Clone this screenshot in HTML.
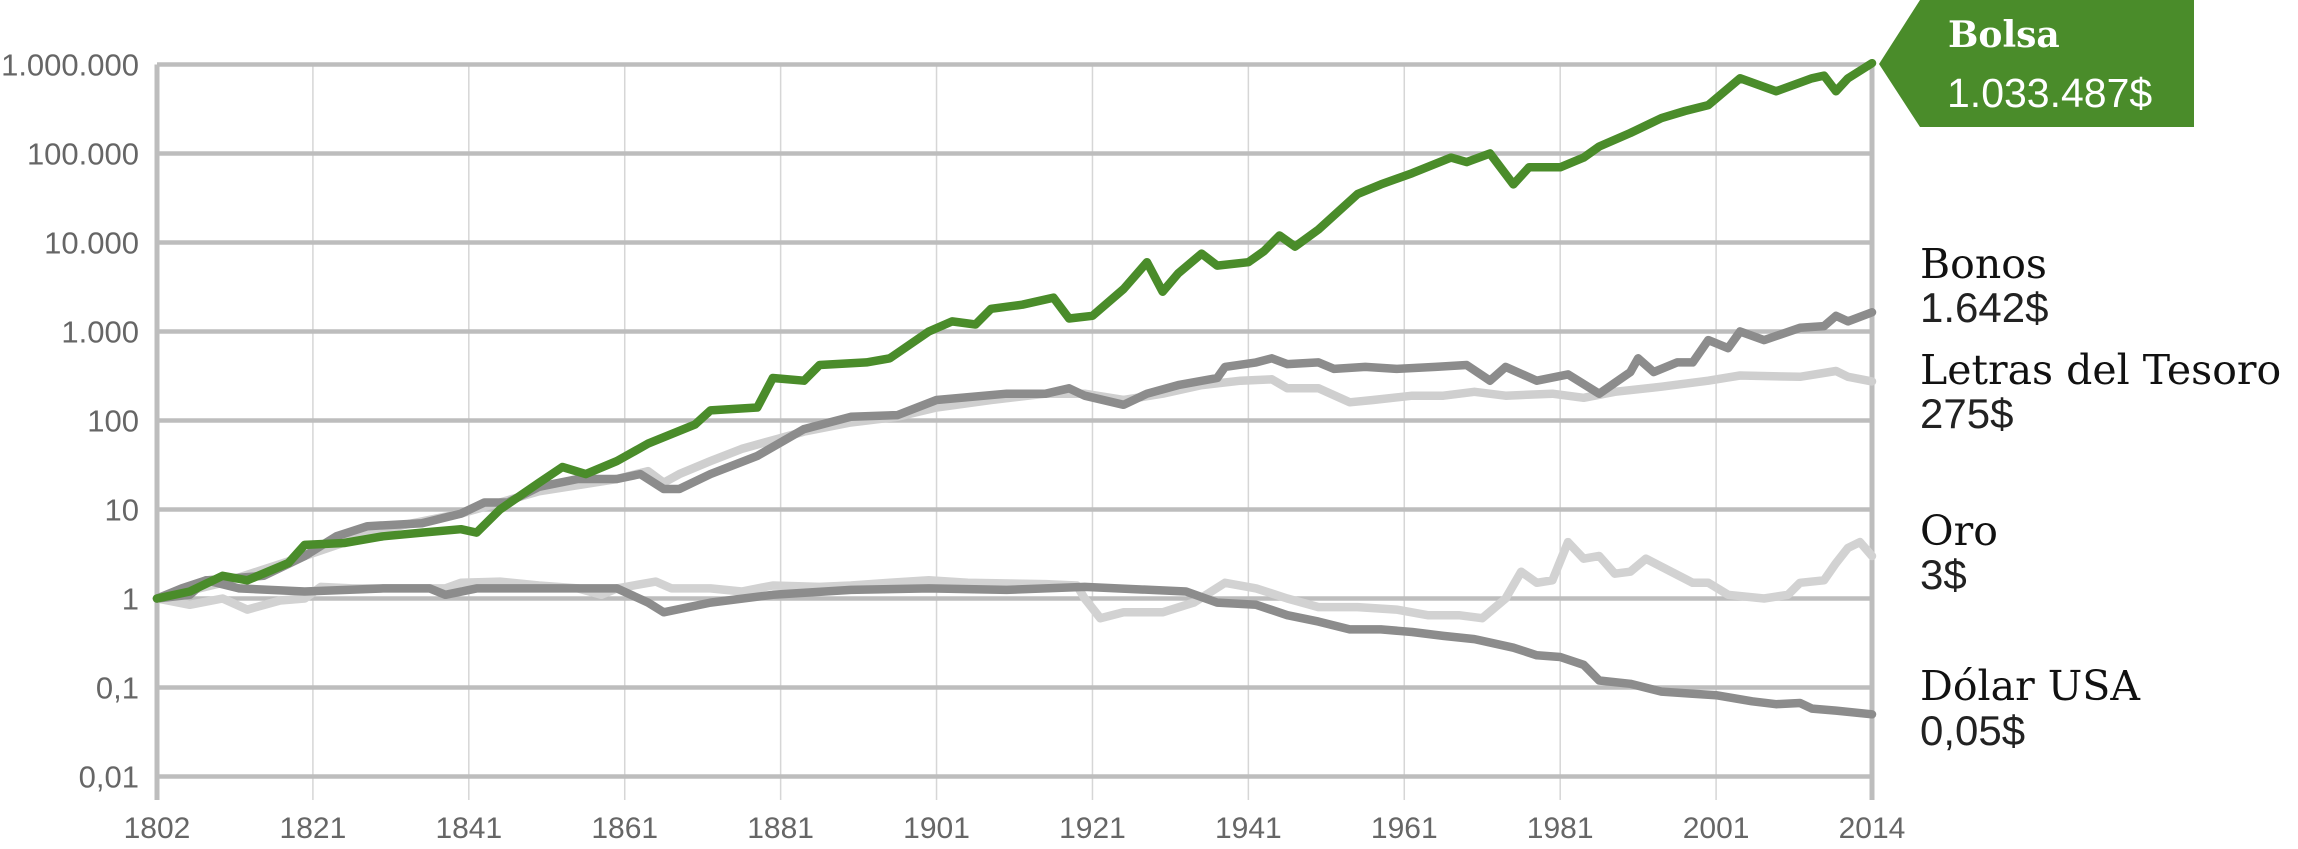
<!DOCTYPE html>
<html><head><meta charset="utf-8"><style>
html,body{margin:0;padding:0;background:#fff;}
svg{display:block;}
</style></head><body>
<svg id="chart" width="2298" height="849" viewBox="0 0 2298 849" xmlns="http://www.w3.org/2000/svg"></svg>
<script>
const tickYears=[1802,1821,1841,1861,1881,1901,1921,1941,1961,1981,2001,2014];
const yTickValues=[0.01,0.1,1,10,100,1000,10000,100000,1000000];
const yTickLabels=["0,01","0,1","1","10","100","1.000","10.000","100.000","1.000.000"];

const bolsaYears=[1802,1806,1810,1813,1818,1820,1825,1830,1835,1840,1842,1845,1850,1853,1856,1860,1864,1870,1872,1878,1880,1884,1886,1892,1895,1900,1903,1906,1908,1912,1916,1918,1921,1925,1928,1930,1932,1935,1937,1941,1943,1945,1947,1950,1955,1958,1962,1967,1969,1972,1975,1977,1981,1984,1986,1990,1994,1997,2000,2003,2006,2009,2010,2011,2012,2014];
const bolsaValues=[1,1.2,1.8,1.6,2.5,4,4.2,5,5.5,6,5.5,10,20,30,25,35,55,90,130,140,300,280,420,450,500,1000,1300,1200,1800,2000,2400,1400,1500,3000,6000,2800,4500,7500,5500,6000,8000,12000,9000,14000,35000,45000,60000,90000,80000,100000,45000,70000,70000,90000,120000,170000,250000,300000,350000,700000,500000,700000,750000,500000,700000,1033487];

const bonosYears=[1802,1805,1808,1815,1820,1824,1828,1835,1840,1843,1846,1850,1855,1860,1863,1866,1868,1872,1878,1884,1890,1896,1901,1910,1915,1918,1920,1925,1928,1932,1937,1938,1942,1944,1946,1950,1952,1956,1960,1965,1969,1972,1974,1978,1982,1986,1990,1991,1993,1996,1998,2000,2002,2003,2005,2008,2010,2011,2012,2014];
const bonosValues=[1,1.3,1.6,1.8,3,5,6.5,7,9,12,12,18,22,22,25,17,17,25,40,80,110,115,170,200,200,230,190,150,200,250,300,400,450,500,430,450,380,400,380,400,420,280,400,280,330,200,350,500,350,450,450,800,650,1000,800,1100,1150,1500,1300,1642];

const letrasYears=[1802,1810,1820,1830,1840,1850,1860,1864,1866,1868,1872,1876,1880,1884,1890,1896,1901,1908,1915,1920,1925,1930,1935,1940,1944,1946,1950,1954,1957,1962,1966,1970,1974,1980,1984,1988,1994,2000,2003,2008,2011,2012,2014];
const letrasValues=[1,1.5,3,6,9,16,22,27,20,25,35,48,60,75,95,110,140,170,200,200,170,200,250,280,290,230,230,160,170,190,190,210,190,200,180,210,240,280,320,310,360,310,275];

const oroYears=[1802,1806,1810,1813,1817,1820,1822,1826,1830,1838,1840,1845,1850,1855,1858,1860,1865,1867,1872,1876,1880,1886,1890,1895,1900,1905,1915,1919,1920,1922,1925,1930,1934,1938,1942,1946,1950,1955,1960,1964,1968,1971,1974,1976,1978,1980,1982,1984,1986,1988,1990,1992,1998,2000,2002,2005,2007,2008,2010,2011,2012,2013,2014];
const oroValues=[1,0.85,1,0.75,0.95,1,1.35,1.3,1.3,1.3,1.5,1.55,1.4,1.3,1.1,1.3,1.55,1.3,1.3,1.2,1.4,1.35,1.4,1.5,1.6,1.5,1.45,1.4,1.0,0.6,0.7,0.7,0.9,1.5,1.3,1.0,0.8,0.8,0.75,0.65,0.65,0.6,1.0,2.0,1.5,1.6,4.3,2.8,3.0,1.9,2.0,2.8,1.5,1.5,1.1,1.0,1.1,1.5,1.6,2.5,3.7,4.3,3];

const dolarYears=[1802,1806,1808,1812,1820,1830,1836,1838,1842,1860,1864,1866,1872,1880,1890,1900,1910,1920,1933,1937,1942,1946,1950,1954,1958,1962,1966,1970,1975,1978,1981,1984,1986,1990,1994,1998,2001,2004,2006,2008,2009,2011,2014];
const dolarValues=[1,1.1,1.6,1.3,1.2,1.3,1.3,1.1,1.3,1.3,0.9,0.7,0.9,1.1,1.25,1.3,1.25,1.35,1.2,0.9,0.85,0.65,0.55,0.45,0.45,0.42,0.38,0.35,0.28,0.23,0.22,0.18,0.12,0.11,0.09,0.085,0.082,0.07,0.065,0.067,0.058,0.055,0.05];

const NS="http://www.w3.org/2000/svg";
const svg=document.getElementById('chart');
const X0=157,X1=1872,YTOP=64.5,DEC=89;
function xScale(yr){
  const n=tickYears.length-1, step=(X1-X0)/n;
  for(let i=0;i<n;i++){
    if(yr<=tickYears[i+1]){return X0+step*(i+(yr-tickYears[i])/(tickYears[i+1]-tickYears[i]));}
  }
  return X1;
}
function yScale(v){return YTOP+(6-Math.log10(v))*DEC;}
function mk(tag,attrs){const e=document.createElementNS(NS,tag);for(const k in attrs)e.setAttribute(k,attrs[k]);svg.appendChild(e);return e;}

tickYears.forEach((yr,i)=>{
  const x=xScale(yr);
  const edge=(i===0||i===tickYears.length-1);
  const l=mk('line',{x1:x,x2:x,y1:YTOP,y2:800,stroke:edge?'#bdbdbd':'#d6d6d6','stroke-width':edge?5:1.5});
  
  
  const t=mk('text',{x:x,y:838,'text-anchor':'middle','font-family':'Liberation Sans, sans-serif','font-size':30,fill:'#666'});
  t.textContent=yr;
  
  
});
yTickValues.forEach((v,i)=>{
  const y=yScale(v);
  const l=mk('line',{x1:X0,x2:X1,y1:y,y2:y,stroke:'#bdbdbd','stroke-width':4.5});
  
  
  const t=mk('text',{x:139,y:y+11,'text-anchor':'end','font-family':'Liberation Sans, sans-serif','font-size':31,fill:'#666'});
  t.textContent=yTickLabels[i];
  
  
});

function series(years,vals,color,name){
  const d=years.map((yr,i)=>(i?'L':'M')+xScale(yr).toFixed(1)+','+yScale(vals[i]).toFixed(1)).join(' ');
  const p=mk('path',{d:d,fill:'none',stroke:color,'stroke-width':8.5,'stroke-linejoin':'round','stroke-linecap':'round'});
  
  
}
series(letrasYears,letrasValues,'#cfcfcf','letras-line');
series(oroYears,oroValues,'#d2d2d2','oro-line');
series(bonosYears,bonosValues,'#8c8c8c','bonos-line');
series(dolarYears,dolarValues,'#8c8c8c','dolar-line');
series(bolsaYears,bolsaValues,'#4a8c2a','bolsa-line');

const cb=mk('polygon',{points:'1879,64 1920,0 2194,0 2194,127 1920,127',fill:'#4a8c2a'});


const t1=mk('text',{x:1948,y:47,'font-family':'DejaVu Serif, serif','font-weight':'bold','font-size':36,fill:'#fff'});
t1.textContent='Bolsa';


const t2=mk('text',{x:1947,y:107,'font-family':'Liberation Sans, sans-serif','font-size':41,fill:'#fff'});
t2.textContent='1.033.487$';



const labels=[['Bonos','1.642$',278,322,'bonos'],['Letras del Tesoro','275$',384,428,'letras'],['Oro','3$',545,589,'oro'],['Dólar USA','0,05$',700,745,'dolar']];
labels.forEach(l=>{
  const a=mk('text',{x:1920,y:l[2],'font-family':'DejaVu Serif, serif','font-size':41,fill:'#111'});
  a.textContent=l[0];
  
  
  const b=mk('text',{x:1920,y:l[3],'font-family':'Liberation Sans, sans-serif','font-size':42,fill:'#222'});
  b.textContent=l[1];
  
  
});
</script>
</body></html>
